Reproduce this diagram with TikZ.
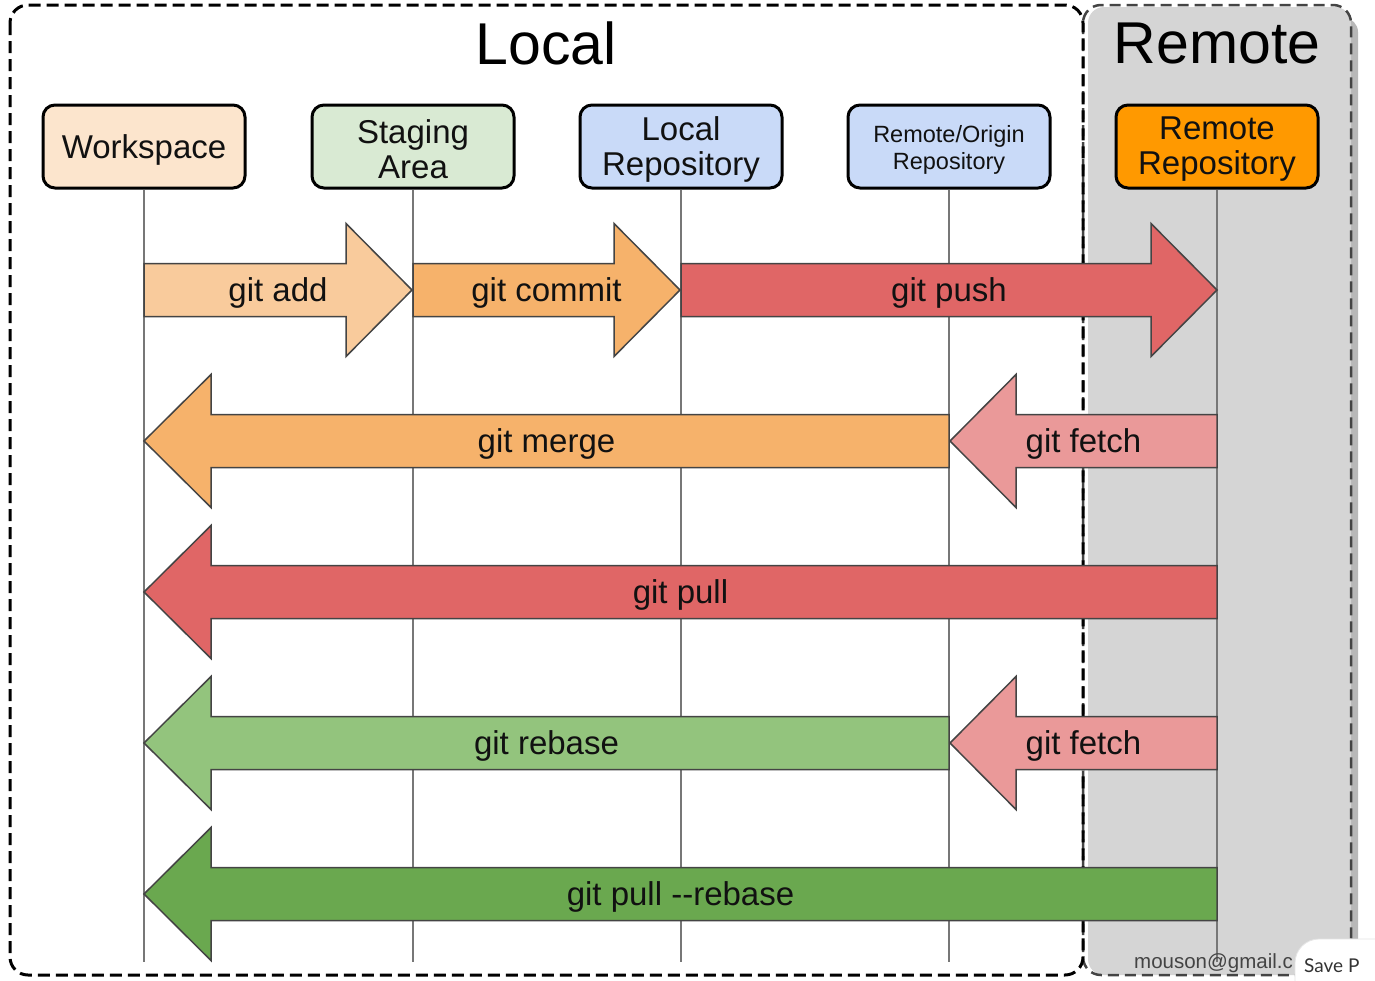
\documentclass[tikz,border=0pt]{standalone}
\usepackage{fontspec}
\setmainfont{Liberation Sans}
\newfontfamily\uifont{Lato}
\definecolor{txt}{HTML}{111111}
\definecolor{wsfill}{HTML}{FCE5CD}
\definecolor{stfill}{HTML}{D9EAD3}
\definecolor{repofill}{HTML}{C9DAF8}
\definecolor{rrfill}{HTML}{FF9900}
\definecolor{addc}{HTML}{F9CB9C}
\definecolor{commitc}{HTML}{F6B26B}
\definecolor{pushc}{HTML}{E06666}
\definecolor{fetchc}{HTML}{EA9999}
\definecolor{rebasec}{HTML}{93C47D}
\definecolor{pullrebc}{HTML}{6AA84F}
\definecolor{remotegray}{HTML}{D5D5D5}
\definecolor{shadowgray}{HTML}{B8B8B8}
\definecolor{lifec}{HTML}{777777}
\definecolor{edgec}{HTML}{444444}
\tikzset{
  box/.style={draw=black, line width=3pt, rounded corners=12pt, minimum width=202pt,
    minimum height=83pt, inner sep=0pt},
  boxtext/.style={align=center, text=txt, inner sep=0pt, font=\fontsize{33}{35}\selectfont},
  smalltext/.style={boxtext, font=\fontsize{23.5}{27}\selectfont},
  life/.style={draw=lifec, line width=2pt},
  arrowline/.style={draw=edgec, line width=1.5pt, line join=miter},
  arrowtext/.style={text=txt, font=\fontsize{33}{35}\selectfont, inner sep=0pt},
  title/.style={text=black, font=\fontsize{59}{62}\selectfont, inner sep=0pt},
  localborder/.style={draw=black, line width=3pt, dash pattern=on 12pt off 6pt, rounded corners=18pt},
  remoteborder/.style={draw=edgec, line width=2.5pt, dash pattern=on 11pt off 6pt, rounded corners=18pt},
}
% start x, head base x, tip x, y, colour, label, name
\newcommand\blockarr[7]{%
  \draw[arrowline, fill=#5] (#1,#4-26.5) -- (#2,#4-26.5) -- (#2,#4-66.5) -- (#3,#4)
     -- (#2,#4+66.5) -- (#2,#4+26.5) -- (#1,#4+26.5) -- cycle;
  \node[arrowtext] (#7) at ({(#1+#3)/2},#4+3) {#6};
}
\begin{document}
\begin{tikzpicture}[x=1pt,y=-1pt]
\useasboundingbox (0,0) rectangle (1375,980);
\fill[white] (0,0) rectangle (1375,980);
% remote region
\fill[shadowgray, rounded corners=14pt] (1320,18) rectangle (1358,968);
\fill[remotegray, rounded corners=16pt] (1088,7) rectangle (1351,975);
\draw[remoteborder] (1083,5) rectangle (1351,975);
% local border
\draw[localborder] (10,5) rectangle (1083,975);
% titles
\node[title] (localt) at (546,43) {Local};
\node[title] (remotet) at (1217,43) {Remote};
% boxes
\node[box, fill=wsfill] (ws) at (144,146.5) {};
\node[box, fill=stfill] (st) at (413,146.5) {};
\node[box, fill=repofill] (lr) at (681,146.5) {};
\node[box, fill=repofill] (ro) at (949,146.5) {};
\node[box, fill=rrfill] (rr) at (1217,146.5) {};
\node[boxtext] (ws-t) at ([yshift=-3pt]ws.center) {Workspace};
\node[boxtext] (st-t) at ([yshift=-3pt]st.center) {Staging\\Area};
\node[boxtext] (lr-t) at ([yshift=-3pt]lr.center) {Local\\Repository};
\node[smalltext] (ro-t) at ([yshift=-3pt]ro.center) {Remote/Origin\\Repository};
\node[boxtext] (rr-t) at ([yshift=-3pt]rr.center) {Remote\\Repository};
% lifelines
\coordinate (ws-end) at (144,962);
\coordinate (st-end) at (413,962);
\coordinate (lr-end) at (681,962);
\coordinate (ro-end) at (949,962);
\coordinate (rr-end) at (1217,962);
\draw[life] (ws) -- (ws-end);
\draw[life] (st) -- (st-end);
\draw[life] (lr) -- (lr-end);
\draw[life] (ro) -- (ro-end);
\draw[life] (rr) -- (rr-end);
% arrows
\blockarr{144}{346}{412}{290}{addc}{git add}{add}
\blockarr{413}{614}{680}{290}{commitc}{git commit}{commit}
\blockarr{681}{1151}{1217}{290}{pushc}{git push}{push}
\blockarr{949}{211}{144}{441}{commitc}{git merge}{merge}
\blockarr{1217}{1016}{950}{441}{fetchc}{git fetch}{fetcha}
\blockarr{1217}{211}{144}{592}{pushc}{git pull}{pull}
\blockarr{949}{211}{144}{743}{rebasec}{git rebase}{rebase}
\blockarr{1217}{1016}{950}{743}{fetchc}{git fetch}{fetchb}
\blockarr{1217}{211}{144}{894}{pullrebc}{git pull -{}-rebase}{pullreb}
% footer
\node[anchor=base west, inner sep=0pt, text=edgec, font=\fontsize{20.5}{22}\selectfont] (mail) at (1134,968) {mouson@gmail.c};
\fill[white, draw=black!10, line width=0.8pt, rounded corners=24pt] (1295,939) rectangle (1420,1020);
\node[anchor=base west, inner sep=0pt, text=black!80, font=\uifont\fontsize{19}{21}\selectfont] (save) at (1304,972) {Save P};
\end{tikzpicture}
\end{document}
